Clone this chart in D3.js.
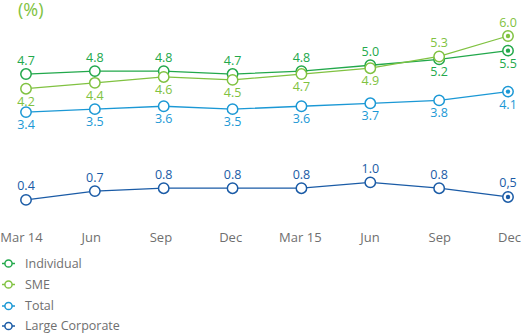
<!DOCTYPE html>
<html><head><meta charset="utf-8">
<script src="https://cdn.jsdelivr.net/npm/d3@7"></script>
<style>
html,body{margin:0;padding:0;background:#fff;}
svg{display:block;font-family:"Open Sans",Lato,sans-serif;}
</style></head>
<body>
<svg id="c" width="521" height="333"></svg>
<script>
const categories = ["Mar 14","Jun","Sep","Dec","Mar 15","Jun","Sep","Dec"];
const seriesNames = ["Individual","SME","Total","Large Corporate"];
const individual = [4.7,4.8,4.8,4.7,4.8,5.0,5.2,5.5];
const sme = [4.2,4.4,4.6,4.5,4.7,4.9,5.3,6.0];
const total = [3.4,3.5,3.6,3.5,3.6,3.7,3.8,4.1];
const largeCorporate = [0.4,0.7,0.8,0.8,0.8,1.0,0.8,0.5];
const lcLabels = ["0.4","0.7","0.8","0.8","0.8","1.0","0.8","0,5"];
// label placement: a = above, b = below
const indPlace = ["a","a","a","a","a","a","b","b"];
const smePlace = ["b","b","b","b","b","b","a","a"];
const totPlace = ["b","b","b","b","b","b","b","b"];
const lcPlace  = ["a","a","a","a","a","a","a","a"];
const colors = ["#22a84b","#80c241","#1b98d5","#1a5ba6"];

const fmt = d3.format(".1f");
const series = [
  {name:seriesNames[0], values:individual, labels:individual.map(fmt), place:indPlace, color:colors[0]},
  {name:seriesNames[1], values:sme, labels:sme.map(fmt), place:smePlace, color:colors[1]},
  {name:seriesNames[2], values:total, labels:total.map(fmt), place:totPlace, color:colors[2]},
  {name:seriesNames[3], values:largeCorporate, labels:lcLabels, place:lcPlace, color:colors[3]}
];

const svg = d3.select("#c");
const idx = categories.map((d,i)=>i);
const x = d3.scalePoint().domain(idx).range([26,508]);
const xAxisScale = d3.scalePoint().domain(idx).range([21,509]);
const y = d3.scaleLinear().domain([0,6]).range([211.6,36]);

svg.append("text").attr("x",18).attr("y",16).attr("fill","#80c241")
  .attr("font-size",18).text("(%)");

const line = d3.line().x((d,i)=>x(i)).y(d=>y(d));

series.forEach(s=>{
  const g = svg.append("g");
  g.append("path").datum(s.values).attr("d",line).attr("fill","none")
    .attr("stroke",s.color).attr("stroke-width",1.3);
  g.selectAll("circle.pt").data(s.values).join("circle").attr("class","pt")
    .attr("cx",(d,i)=>x(i)).attr("cy",d=>y(d)).attr("r",5.2)
    .attr("fill","#fff").attr("stroke",s.color).attr("stroke-width",1.5);
  const last = s.values.length-1;
  g.append("circle").attr("cx",x(last)).attr("cy",y(s.values[last])).attr("r",2.2)
    .attr("fill",s.color);
  g.selectAll("text.lb").data(s.values).join("text").attr("class","lb")
    .attr("x",(d,i)=>x(i))
    .attr("y",(d,i)=> s.place[i]==="a" ? y(d)-9.5 : y(d)+17)
    .attr("text-anchor","middle").attr("font-size",12.5).attr("fill",s.color)
    .text((d,i)=>s.labels[i]);
});

const xAxis = d3.axisBottom(xAxisScale).tickSize(0).tickFormat(i=>categories[i]);
const ax = svg.append("g").attr("transform","translate(0,230)").call(xAxis);
ax.select(".domain").remove();
ax.selectAll("text").attr("font-size",13).attr("fill","#6f6f6f")
  .attr("font-family","'Open Sans',Lato,sans-serif");

const legY = [263.5,284.5,306,326];
series.forEach((s,i)=>{
  const g = svg.append("g").attr("transform",`translate(0,${legY[i]})`);
  g.append("line").attr("x1",2).attr("x2",15).attr("stroke",s.color).attr("stroke-width",1.5);
  g.append("circle").attr("cx",8.5).attr("r",3.6).attr("fill","#fff")
    .attr("stroke",s.color).attr("stroke-width",1.5);
  g.append("text").attr("x",25).attr("y",4.3).attr("font-size",12.5)
    .attr("fill","#6f6f6f").text(s.name);
});
</script>
</body></html>
